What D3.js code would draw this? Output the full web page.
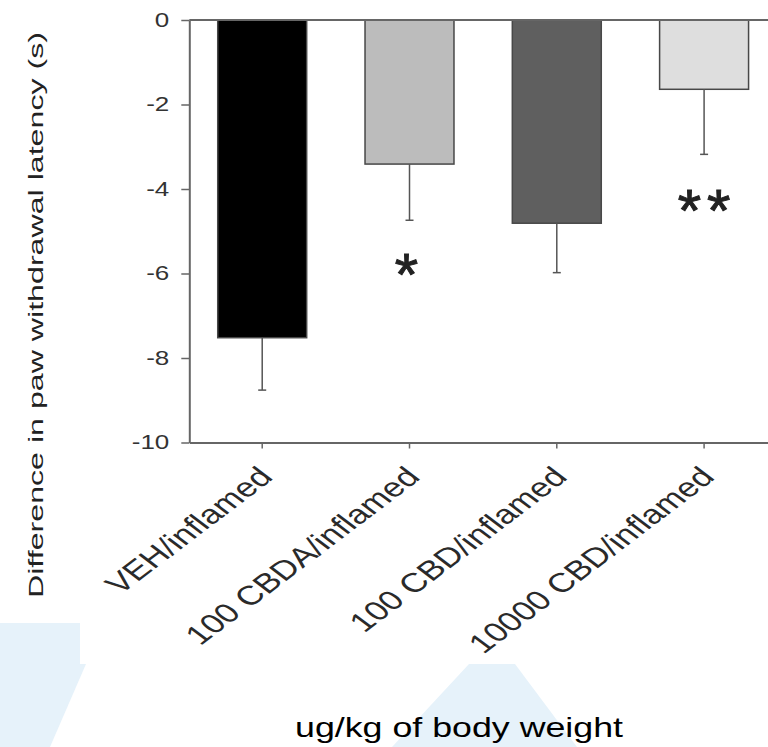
<!DOCTYPE html>
<html>
<head>
<meta charset="utf-8">
<script src="https://cdn.jsdelivr.net/npm/d3@7"></script>
<style>
  html, body { margin: 0; padding: 0; background: #fff; }
  svg { display: block; font-family: "Liberation Sans", Arial, sans-serif; }
</style>
</head>
<body>
<svg id="chart" width="768" height="747"></svg>
<script>
// ---- data ----
const categories = ["VEH/inflamed", "100 CBDA/inflamed", "100 CBD/inflamed", "10000 CBD/inflamed"];
const means = [-7.52, -3.41, -4.81, -1.64];
const sems = [1.24, 1.33, 1.17, 1.54];
const barColors = ["#000000", "#bcbcbc", "#5f5f5f", "#dedede"];
const sigLabels = ["", "*", "", "**"];
const sigValues = [null, -5.68, null, -4.17];
const yTicks = [0, -2, -4, -6, -8, -10];
const yTickLabels = ["0", "-2", "-4", "-6", "-8", "-10"];
const yTitle = "Difference in paw withdrawal latency (s)";
const xTitle = "ug/kg of body weight";

// ---- layout ----
const W = 768, H = 747;
const svg = d3.select("#chart");
svg.append("rect").attr("width", W).attr("height", H).attr("fill", "#fff");

// faint watermark shapes in the background
const wm = svg.append("g").attr("fill", "#e6f2fa");
wm.append("rect").attr("x", 0).attr("y", 623).attr("width", 80).attr("height", 41);
wm.append("polygon").attr("points", "0,664 86,664 50,747 0,747");
wm.append("polygon").attr("points", "469,664 515,664 577,747 392,747");

const y = d3.scaleLinear().domain([-10, 0]).range([442.5, 20]);
const x = d3.scaleBand().domain(categories).range([189.3, 777])
  .paddingInner(0.396).paddingOuter(0.193);

function stretch(sel, k) {
  sel.each(function () {
    const len = this.getComputedTextLength();
    d3.select(this).attr("textLength", len * k).attr("lengthAdjust", "spacingAndGlyphs");
  });
}

const axisColor = "#666";

// bars
const bars = svg.append("g");
bars.selectAll("rect").data(categories).join("rect")
  .attr("x", d => x(d))
  .attr("y", y(0))
  .attr("width", x.bandwidth())
  .attr("height", (d, i) => y(means[i]) - y(0))
  .attr("fill", (d, i) => barColors[i])
  .attr("stroke", "#484848")
  .attr("stroke-width", 1.5);

// error bars (downward only)
const eb = svg.append("g").attr("stroke", "#555").attr("stroke-width", 1.5);
categories.forEach((c, i) => {
  const cx = x(c) + x.bandwidth() / 2;
  eb.append("line").attr("x1", cx).attr("x2", cx)
    .attr("y1", y(means[i])).attr("y2", y(means[i] - sems[i]));
  eb.append("line").attr("x1", cx - 4).attr("x2", cx + 4)
    .attr("y1", y(means[i] - sems[i])).attr("y2", y(means[i] - sems[i]));
});

// zero line
svg.append("line")
  .attr("x1", x.range()[0]).attr("x2", x.range()[1])
  .attr("y1", y(0)).attr("y2", y(0))
  .attr("stroke", axisColor).attr("stroke-width", 2);

// y axis
const yAxis = svg.append("g").attr("transform", `translate(${x.range()[0]},0)`)
  .call(d3.axisLeft(y).tickValues(yTicks)
    .tickFormat((d, i) => yTickLabels[i])
    .tickSize(8).tickSizeOuter(0).tickPadding(12));
yAxis.select(".domain").attr("stroke", axisColor).attr("stroke-width", 2);
yAxis.selectAll(".tick line").attr("stroke", axisColor).attr("stroke-width", 1.5);
yAxis.selectAll(".tick text")
  .attr("font-size", 20).attr("fill", "#333")
  .attr("font-family", "'Liberation Sans', Arial, sans-serif");
stretch(yAxis.selectAll(".tick text"), 1.3);

// x axis (bottom)
const xAxis = svg.append("g").attr("transform", `translate(0,${y(-10)})`)
  .call(d3.axisBottom(x).tickSize(6).tickSizeOuter(0));
xAxis.select(".domain").attr("stroke", axisColor).attr("stroke-width", 2);
xAxis.selectAll(".tick line").attr("stroke", axisColor).attr("stroke-width", 1.5);
xAxis.selectAll(".tick text")
  .attr("font-size", 27).attr("fill", "#2a2a2a")
  .attr("font-family", "'Liberation Sans', Arial, sans-serif")
  .attr("x", 0).attr("y", 0).attr("dy", 0)
  .attr("text-anchor", "end")
  .attr("transform", "translate(12,36) scale(1.32,1) rotate(-45)");

// significance stars
const sigFs = 60;
categories.forEach((c, i) => {
  if (!sigLabels[i]) return;
  const cx = x(c) + x.bandwidth() / 2;
  svg.append("text")
    .attr("x", cx + (sigLabels[i].length > 1 ? 3 : -3))
    .attr("y", y(sigValues[i]) + 0.58 * sigFs)
    .attr("text-anchor", "middle")
    .attr("font-size", sigFs)
    .attr("letter-spacing", sigLabels[i].length > 1 ? 6 : 0)
    .attr("fill", "#222")
    .attr("stroke", "#222")
    .attr("stroke-width", 1)
    .text(sigLabels[i]);
});

// y title
svg.append("text")
  .attr("transform", "translate(43,315) rotate(-90)")
  .attr("text-anchor", "middle")
  .attr("font-size", 20)
  .attr("fill", "#222")
  .attr("textLength", 566)
  .attr("lengthAdjust", "spacingAndGlyphs")
  .text(yTitle);

// x title
svg.append("text")
  .attr("x", 459).attr("y", 737)
  .attr("text-anchor", "middle")
  .attr("font-size", 28)
  .attr("fill", "#000")
  .attr("textLength", 328)
  .attr("lengthAdjust", "spacingAndGlyphs")
  .text(xTitle);
</script>
</body>
</html>
